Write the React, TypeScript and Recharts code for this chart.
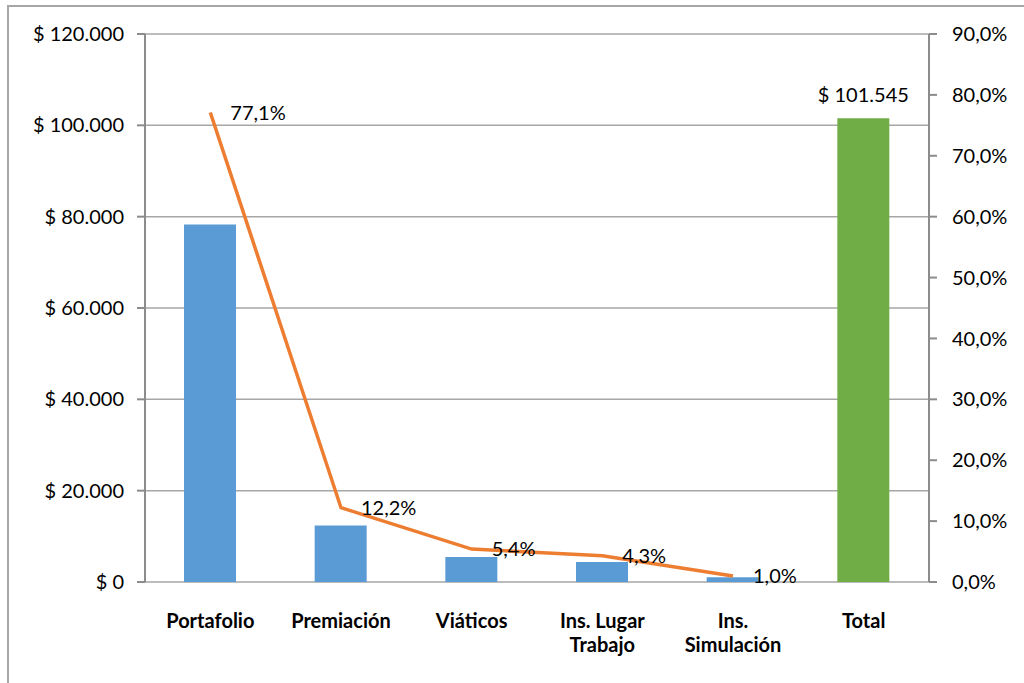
import React from "react"
import {
    ComposedChart, Bar, Line, XAxis, YAxis, CartesianGrid, Cell, LabelList,
} from "recharts"

// categorías y valores
const categories = ["Portafolio", "Premiación", "Viáticos", "Ins. Lugar Trabajo", "Ins. Simulación", "Total"]
const categoryLines = [["Portafolio"], ["Premiación"], ["Viáticos"], ["Ins. Lugar", "Trabajo"], ["Ins.", "Simulación"], ["Total"]]
const amounts = [78291, 12389, 5483, 4366, 1015, 101545]
const shares = [77.1, 12.2, 5.4, 4.3, 1.0, null]
const amountTicks = [0, 20000, 40000, 60000, 80000, 100000, 120000]
const shareTicks = [0, 10, 20, 30, 40, 50, 60, 70, 80, 90]
const boundaryTicks = [0, 1, 2, 3, 4, 5, 6]

const BLUE = "#5B9BD5"
const GREEN = "#70AD47"
const ORANGE = "#ED7D31"
const GRID = "#A6A6A6"
const AXIS = "#8C8C8C"
const FONT = "Lato, 'Noto Sans', sans-serif"

const money = (v: number) => "$ " + Math.round(v).toString().replace(/\B(?=(\d{3})+(?!\d))/g, ".")
const pct = (v: number) => v.toFixed(1).replace(".", ",") + "%"

const chartData = categories.map((name, i) => ({
    name,
    monto: amounts[i],
    porcentaje: shares[i],
    totalLabel: i === categories.length - 1 ? amounts[i] : null,
}))

const CategoryTick = ({ x, y, index }: any) => {
    const lines = categoryLines[index] || []
    return (
        <text x={x} y={y} textAnchor="middle" fontFamily={FONT} fontSize={20} fontWeight={700} fill="#000">
            {lines.map((l, i) => (
                <tspan key={i} x={x} y={y + 46 + i * 24}>{l}</tspan>
            ))}
        </text>
    )
}

const TotalLabel = ({ x, y, width, value }: any) => {
    if (value == null) return null
    return (
        <text x={x + width / 2} y={y - 16} textAnchor="middle" fontFamily={FONT} fontSize={20} fill="#000">
            {money(value)}
        </text>
    )
}

export default function App() {
    return (
        <div style={{ position: "absolute", left: 0, top: 0, width: 1024, height: 683, overflow: "hidden", background: "#fff" }}>
            <div style={{
                position: "absolute", left: 7, top: 5, width: 1040, height: 700,
                borderLeft: `2px solid ${GRID}`, borderTop: `2px solid ${GRID}`,
            }} />
            <div style={{ position: "absolute", left: 0, top: 0 }}>
                <ComposedChart
                    width={1024}
                    height={683}
                    data={chartData}
                    margin={{ top: 34, right: 0, bottom: 0, left: 0 }}
                >
                    <CartesianGrid yAxisId="left" vertical={false} stroke={GRID} strokeWidth={1.5} />
                    <XAxis
                        xAxisId="bounds"
                        type="number"
                        domain={[0, 6]}
                        ticks={boundaryTicks}
                        height={0}
                        tick={false}
                        tickSize={8}
                        stroke={AXIS}
                        strokeWidth={2}
                        allowDataOverflow
                    />
                    <XAxis
                        xAxisId="cat"
                        dataKey="name"
                        height={101}
                        axisLine={false}
                        tickLine={false}
                        tickSize={0}
                        tickMargin={0}
                        interval={0}
                        tick={<CategoryTick />}
                    />
                    <YAxis
                        yAxisId="left"
                        width={145}
                        domain={[0, 120000]}
                        ticks={amountTicks}
                        tickFormatter={money}
                        stroke={AXIS}
                        strokeWidth={2}
                        tickSize={8}
                        tickMargin={13}
                        tick={{ fill: "#000", fontSize: 20, fontFamily: FONT }}
                    />
                    <YAxis
                        yAxisId="right"
                        orientation="right"
                        width={95}
                        domain={[0, 90]}
                        ticks={shareTicks}
                        tickFormatter={pct}
                        stroke={AXIS}
                        strokeWidth={2}
                        tickSize={8}
                        tickMargin={15}
                        tick={{ fill: "#000", fontSize: 20, fontFamily: FONT }}
                    />
                    <Bar xAxisId="cat" yAxisId="left" dataKey="monto" barSize={52} isAnimationActive={false}>
                        {chartData.map((entry, index) => (
                            <Cell key={`cell-${index}`} fill={entry.name === "Total" ? GREEN : BLUE} />
                        ))}
                        <LabelList dataKey="totalLabel" content={<TotalLabel />} />
                    </Bar>
                    <Line
                        xAxisId="cat"
                        yAxisId="right"
                        dataKey="porcentaje"
                        type="linear"
                        stroke={ORANGE}
                        strokeWidth={3.5}
                        dot={false}
                        activeDot={false}
                        isAnimationActive={false}
                    >
                        <LabelList
                            dataKey="porcentaje"
                            position="right"
                            offset={20}
                            formatter={(v: any) => (v == null ? "" : pct(v))}
                            fill="#000"
                            fontSize={20}
                            fontFamily={FONT}
                        />
                    </Line>
                </ComposedChart>
            </div>
        </div>
    )
}
